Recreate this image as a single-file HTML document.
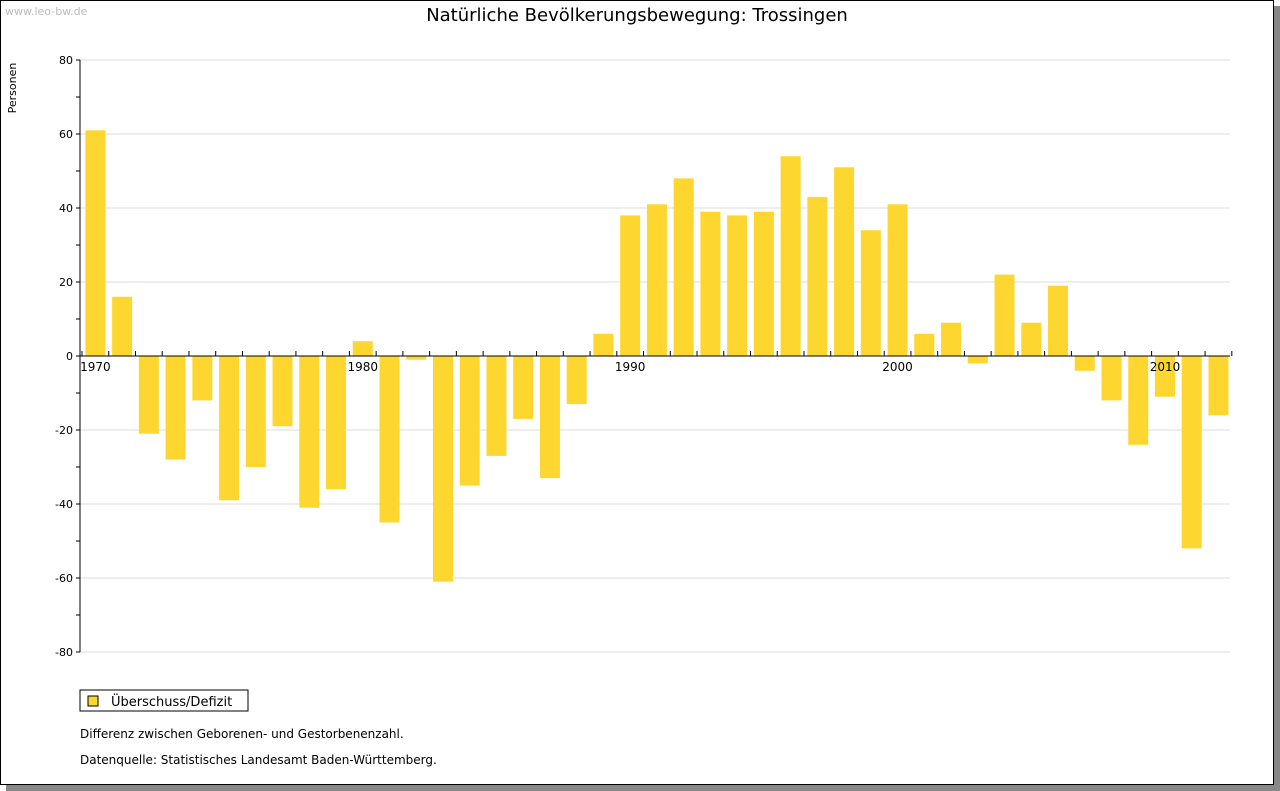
<!DOCTYPE html>
<html><head><meta charset="utf-8"><style>
body{margin:0;background:#fff;font-family:"DejaVu Sans","Liberation Sans",sans-serif;}
#frame{position:absolute;left:0;top:0;width:1272px;height:783px;border:1px solid #000;background:#fff;box-shadow:6px 6px 0 #888;}
svg text{font-family:"DejaVu Sans","Liberation Sans",sans-serif;}
</style></head><body>
<div id="frame"></div>
<svg id="c" width="1280" height="791" style="position:absolute;left:0;top:0">
<text x="5" y="15" font-size="11" fill="#bbb">www.leo-bw.de</text>
<text x="637" y="21" font-size="18" text-anchor="middle" fill="#000">Natürliche Bevölkerungsbewegung: Trossingen</text>
<text x="16" y="88" font-size="11" text-anchor="middle" transform="rotate(-90 16 88)">Personen</text>
<g id="grid"></g><g id="bars"></g><g id="axes"></g>
<rect x="80" y="690" width="168" height="21" fill="#fff" stroke="#000"/>
<rect x="88" y="696" width="10" height="10" fill="#fdd72f" stroke="#000"/>
<text x="111" y="706" font-size="13">Überschuss/Defizit</text>
<text x="80" y="738" font-size="12">Differenz zwischen Geborenen- und Gestorbenenzahl.</text>
<text x="80" y="764" font-size="12">Datenquelle: Statistisches Landesamt Baden-Württemberg.</text>
</svg>
<script>
const years=[1970,1971,1972,1973,1974,1975,1976,1977,1978,1979,1980,1981,1982,1983,1984,1985,1986,1987,1988,1989,1990,1991,1992,1993,1994,1995,1996,1997,1998,1999,2000,2001,2002,2003,2004,2005,2006,2007,2008,2009,2010,2011,2012];
const values=[61,16,-21,-28,-12,-39,-30,-19,-41,-36,4,-45,-1,-61,-35,-27,-17,-33,-13,6,38,41,48,39,38,39,54,43,51,34,41,6,9,-2,22,9,19,-4,-12,-24,-11,-52,-16];
const yTicks=[80,60,40,20,0,-20,-40,-60,-80];
const xLabels=[1970,1980,1990,2000,2010];
const NS="http://www.w3.org/2000/svg";
const x0=82,step=26.74,bw=20;
const y=v=>356-v*3.7;
const xc=i=>x0+step*(i+0.5);
function mk(t,a,p){const e=document.createElementNS(NS,t);for(const k in a)e.setAttribute(k,a[k]);document.getElementById(p).appendChild(e);return e;}
yTicks.forEach(t=>{
 const g=mk('line',{x1:80,x2:1230,y1:y(t),y2:y(t),stroke:'#ddd'},'grid');
 
 
 const l=mk('text',{x:73,y:y(t)+4,'font-size':11,'text-anchor':'end'},'axes');l.textContent=t;
 
 
});
for(let v=-80;v<=80;v+=10){const tk=mk('line',{x1:76,x2:80,y1:y(v),y2:y(v),stroke:'#000'},'axes');
 
 }
values.forEach((v,i)=>{
 const r=mk('rect',{x:xc(i)-bw/2,y:Math.min(y(v),y(0)),width:bw,height:Math.abs(y(v)-y(0)),fill:'#fdd72f'},'bars');
 
 
});
const ya=mk('line',{x1:80,x2:80,y1:60,y2:652,stroke:'#000'},'axes');


const xa=mk('line',{x1:80,x2:1230,y1:356,y2:356,stroke:'#000'},'axes');


for(let i=0;i<=years.length;i++){const tk=mk('line',{x1:x0+step*i,x2:x0+step*i,y1:351,y2:356,stroke:'#000'},'axes');
 
 }
xLabels.forEach(yr=>{const i=years.indexOf(yr);const t=mk('text',{x:xc(i),y:371,'font-size':12,'text-anchor':'middle'},'axes');t.textContent=yr;
 
 });
</script>
</body></html>
